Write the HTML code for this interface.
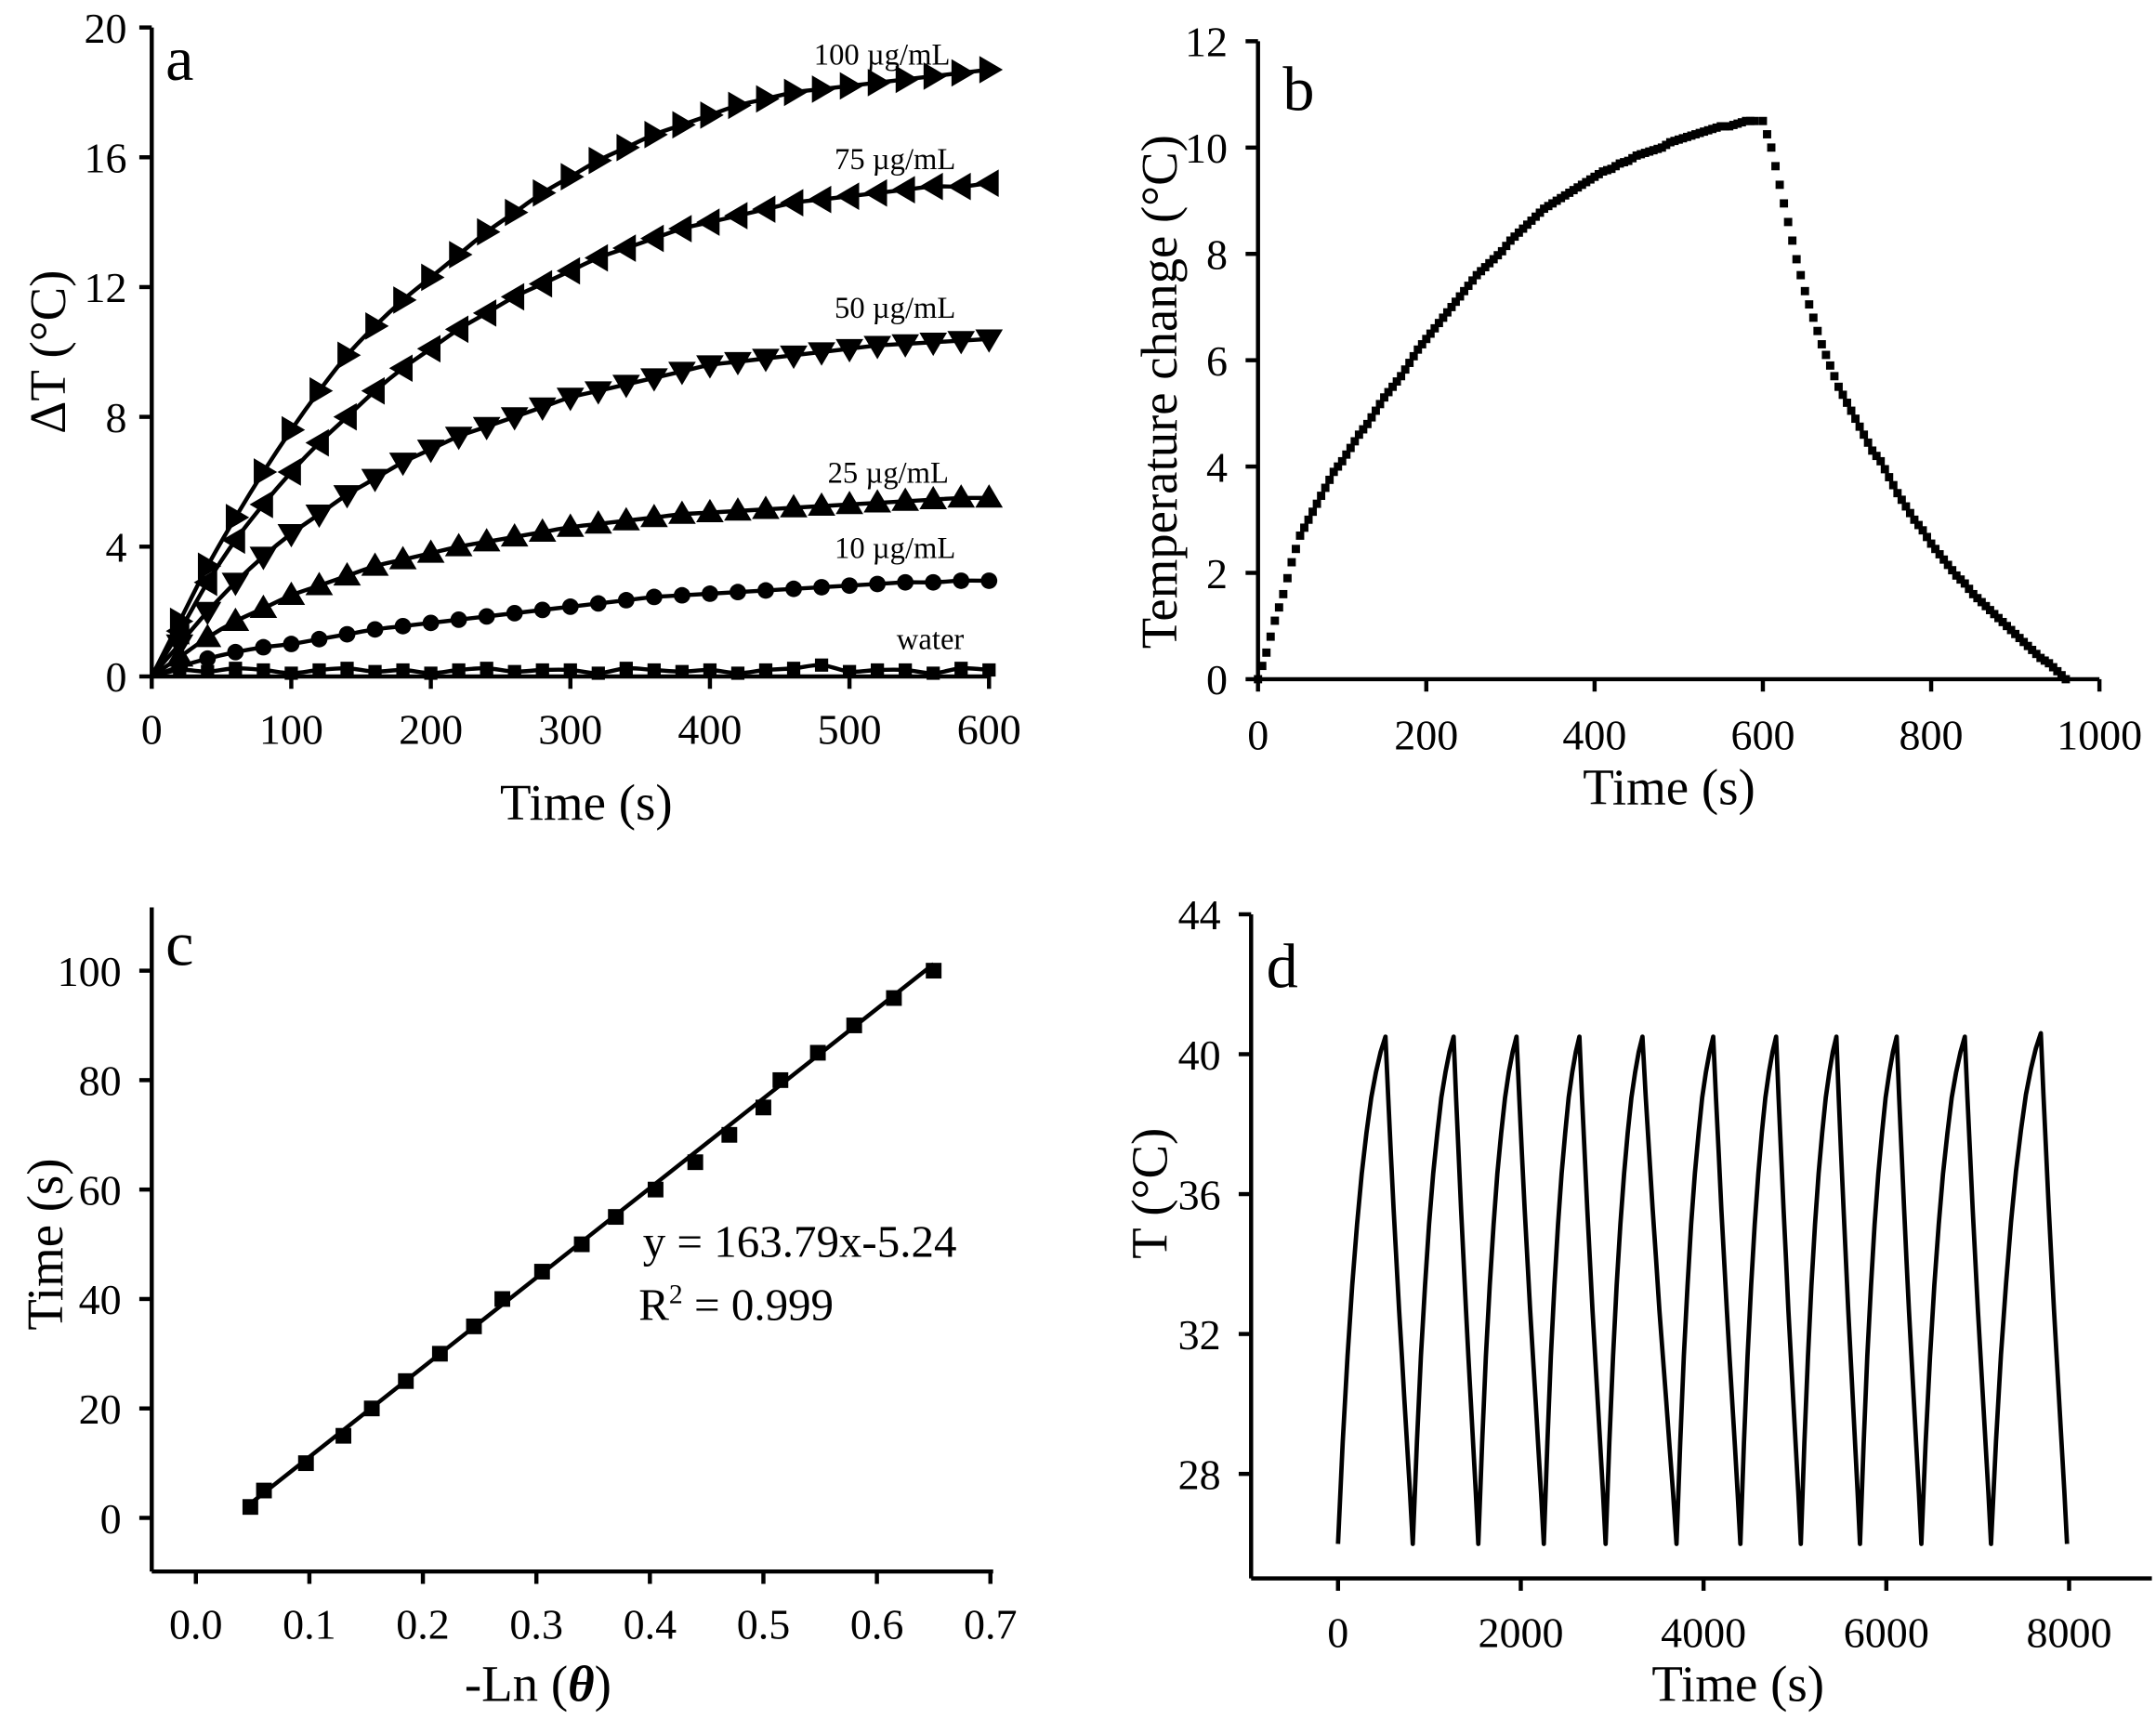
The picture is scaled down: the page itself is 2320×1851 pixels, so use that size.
<!DOCTYPE html>
<html><head><meta charset="utf-8"><style>
html,body{margin:0;padding:0;background:#fff;}
svg{display:block;}
text{font-family:"Liberation Serif",serif;fill:#000;}
</style></head><body>
<svg id="fig" width="2320" height="1851" viewBox="0 0 1563 1251" preserveAspectRatio="none" xmlns="http://www.w3.org/2000/svg"></svg>
<script>
// ---- Panel a data ----
const aTimes=[0,20,40,60,80,100,120,140,160,180,200,220,240,260,280,300,320,340,360,380,400,420,440,460,480,500,520,540,560,580,600];
const a100=[0,1.7,3.4,4.9,6.3,7.6,8.8,9.9,10.8,11.6,12.3,13.0,13.7,14.3,14.9,15.4,15.9,16.3,16.7,17.0,17.3,17.6,17.8,18.0,18.1,18.2,18.3,18.4,18.5,18.6,18.7];
const a75=[0,1.4,2.9,4.2,5.3,6.3,7.2,8.0,8.8,9.5,10.1,10.7,11.2,11.7,12.1,12.5,12.9,13.2,13.5,13.8,14.0,14.2,14.4,14.6,14.7,14.8,14.9,15.0,15.1,15.1,15.2];
const a50=[0,1.0,2.0,2.9,3.7,4.4,5.0,5.6,6.1,6.6,7.0,7.4,7.7,8.0,8.3,8.6,8.8,9.0,9.2,9.4,9.6,9.7,9.8,9.9,10.0,10.1,10.2,10.25,10.3,10.35,10.4];
const a25=[0,0.6,1.2,1.7,2.1,2.5,2.8,3.1,3.4,3.6,3.8,4.0,4.15,4.3,4.45,4.6,4.7,4.8,4.9,5.0,5.05,5.1,5.15,5.2,5.25,5.3,5.35,5.4,5.45,5.5,5.5];
const a10=[0,0.3,0.55,0.75,0.9,1.0,1.15,1.3,1.45,1.55,1.65,1.75,1.85,1.95,2.05,2.15,2.25,2.35,2.45,2.5,2.55,2.6,2.65,2.7,2.75,2.8,2.85,2.9,2.9,2.95,2.95];
const aWater=[0,0.2,0.15,0.25,0.2,0.1,0.2,0.25,0.15,0.2,0.1,0.2,0.25,0.15,0.2,0.2,0.1,0.25,0.2,0.15,0.2,0.1,0.2,0.25,0.35,0.15,0.2,0.2,0.1,0.25,0.2];
const aXTicks=[0,100,200,300,400,500,600];
const aYTicks=[0,4,8,12,16,20];
// ---- Panel b data ----
const bHeatT=[0,10,20,30,40,50,60,70,80,90,100,110,120,130,140,150,160,170,180,190,200,210,220,230,240,250,260,270,280,290,300,310,320,330,340,350,360,370,380,390,400,410,420,430,440,450,460,470,480,490,500,510,520,530,540,550,560,570,580,590];
const bHeat=[0,0.5,1.1,1.6,2.2,2.7,3.0,3.3,3.6,3.9,4.1,4.35,4.6,4.8,5.05,5.3,5.5,5.7,5.95,6.2,6.4,6.6,6.8,7.0,7.2,7.4,7.6,7.75,7.9,8.05,8.25,8.4,8.55,8.7,8.85,8.95,9.05,9.15,9.25,9.35,9.45,9.55,9.6,9.7,9.75,9.85,9.9,9.95,10.0,10.1,10.15,10.2,10.25,10.3,10.35,10.4,10.4,10.45,10.5,10.5];
const bCoolT=[600,610,620,630,640,650,660,670,680,690,700,710,720,730,740,750,760,770,780,790,800,810,820,830,840,850,860,870,880,890,900,910,920,930,940,950,960];
const bCool=[10.5,10.0,9.3,8.6,7.9,7.3,6.8,6.3,5.9,5.5,5.2,4.9,4.6,4.3,4.1,3.8,3.5,3.25,3.0,2.8,2.55,2.35,2.15,1.95,1.8,1.6,1.45,1.3,1.15,1.0,0.85,0.7,0.55,0.4,0.3,0.15,0.0];
const bXTicks=[0,200,400,600,800,1000];
const bYTicks=[0,2,4,6,8,10,12];
// ---- Panel c data ----
const cX=[0.048,0.06,0.097,0.13,0.155,0.185,0.215,0.245,0.27,0.305,0.34,0.37,0.405,0.44,0.47,0.50,0.515,0.548,0.58,0.615,0.65];
const cY=[2,5,10,15,20,25,30,35,40,45,50,55,60,65,70,75,80,85,90,95,100];
const cSlope=[163.79];
const cIntercept=[-5.24];
const cXTicks=[0.0,0.1,0.2,0.3,0.4,0.5,0.6,0.7];
const cYTicks=[0,20,40,60,80,100];
// ---- Panel d data ----
const dStart=[0,818,1535,2252,2929,3704,4403,5064,5712,6383,7146];
const dPeak=[519,1265,1953,2641,3331,4106,4794,5454,6113,6859,7691];
const dEnd=[818,1535,2252,2929,3704,4403,5064,5712,6383,7146,7977];
const dPeakT=[40.5,40.5,40.5,40.5,40.5,40.5,40.5,40.5,40.5,40.5,40.6];
const dMinT=[26,26,26,26,26,26,26,26,26,26,26,26];
const dHeatFrac=[0,0.2,0.37,0.51,0.63,0.73,0.81,0.88,0.93,0.97,1];
const dCoolFrac=[1,0.88,0.77,0.66,0.56,0.46,0.37,0.28,0.19,0.1,0];
const dXTicks=[0,2000,4000,6000,8000];
const dYTicks=[28,32,36,40,44];

const NS="http://www.w3.org/2000/svg";
const svg=document.getElementById('fig');
function mk(tag,attrs,parent,txt){const e=document.createElementNS(NS,tag);for(const k in attrs)e.setAttribute(k,attrs[k]);if(txt!==undefined)e.textContent=txt;(parent||svg).appendChild(e);return e;}
function lin(d0,d1,r0,r1){return v=>r0+(v-d0)*(r1-r0)/(d1-d0);}
function group(name){const g=mk('g',{});return g;}

function axes(g,o){
  const ax=mk('line',{x1:o.axL,y1:o.axB,x2:o.axR,y2:o.axB,stroke:'#000','stroke-width':3},g);
  
  const ay=mk('line',{x1:o.axL,y1:o.axT,x2:o.axL,y2:o.axB,stroke:'#000','stroke-width':3},g);
  
  o.xTicks.forEach(v=>{const x=o.sx(v);
    mk('line',{x1:x,y1:o.axB,x2:x,y2:o.axB+9,stroke:'#000','stroke-width':3},g);
    const t=mk('text',{x:x,y:o.xLabY,'text-anchor':'middle','font-size':o.fs||31},g,o.fmtX(v));
    });
  o.yTicks.forEach(v=>{const y=o.sy(v);
    mk('line',{x1:o.axL-9,y1:y,x2:o.axL,y2:y,stroke:'#000','stroke-width':3},g);
    const t=mk('text',{x:o.yLabX,y:y+11,'text-anchor':'end','font-size':o.fs||31},g,o.fmtY(v));
    });
}
function smoothPath(pts){let d='M'+pts[0][0]+','+pts[0][1];
  for(let i=0;i<pts.length-1;i++){const p0=pts[i-1]||pts[i],p1=pts[i],p2=pts[i+1],p3=pts[i+2]||p2;
    const c1=[p1[0]+(p2[0]-p0[0])/6,p1[1]+(p2[1]-p0[1])/6],c2=[p2[0]-(p3[0]-p1[0])/6,p2[1]-(p3[1]-p1[1])/6];
    d+=' C'+c1[0]+','+c1[1]+' '+c2[0]+','+c2[1]+' '+p2[0]+','+p2[1];}
  return d;}
function marker(g,type,x,y,s){
  let e;
  if(type==='right')e=mk('polygon',{points:`${x+s},${y} ${x-s*0.7},${y-s} ${x-s*0.7},${y+s}`},g);
  else if(type==='left')e=mk('polygon',{points:`${x-s},${y} ${x+s*0.7},${y-s} ${x+s*0.7},${y+s}`},g);
  else if(type==='down')e=mk('polygon',{points:`${x},${y+s} ${x-s},${y-s*0.7} ${x+s},${y-s*0.7}`},g);
  else if(type==='up')e=mk('polygon',{points:`${x},${y-s} ${x-s},${y+s*0.7} ${x+s},${y+s*0.7}`},g);
  else if(type==='circle')e=mk('circle',{cx:x,cy:y,r:s*0.75},g);
  else e=mk('rect',{x:x-s*0.6,y:y-s*0.6,width:s*1.2,height:s*1.2},g);
  e.setAttribute('fill','#000');
  
  
}

// ===== Panel a =====
(function(){
  const g=group('panel-a');
  const sx=lin(0,600,110,717), sy=lin(0,20,492,20);
  axes(g,{axL:110,axR:717,axT:20,axB:492,sx,sy,xTicks:aXTicks,yTicks:aYTicks,fmtX:v=>v,fmtY:v=>v,xLabY:541,yLabX:92});
  const series=[[a100,'right','100 µg/mL',590,47],[a75,'left','75 µg/mL',605,123],[a50,'down','50 µg/mL',605,231],[a25,'up','25 µg/mL',600,351],[a10,'circle','10 µg/mL',605,406],[aWater,'square','water',650,472]];
  series.forEach(([vals,type,label,lx,ly])=>{
    const sg=group('series-'+label.split(' ')[0]);
    const pts=aTimes.map((t,i)=>[sx(t),sy(vals[i])]);
    const p=mk('path',{d:smoothPath(pts),fill:'none',stroke:'#000','stroke-width':3},sg);
    
    pts.forEach((q,i)=>{if(i>0)marker(sg,type,q[0],q[1],type==='circle'||type==='square'?8:10);});
    const t=mk('text',{x:lx,y:ly,'font-size':22},g,label);
    
  });
  const l=mk('text',{x:120,y:58,'font-size':46},g,'a');
  const xt=mk('text',{x:425,y:596,'text-anchor':'middle','font-size':37},g,'Time (s)');
  const yt=mk('text',{x:0,y:0,'text-anchor':'middle','font-size':37,transform:'translate(47,256) rotate(-90)'},g,'ΔT (°C)');
})();

// ===== Panel b =====
(function(){
  const g=group('panel-b');
  const sx=lin(0,1000,912,1522), sy=lin(0,12,494,30);
  axes(g,{axL:912,axR:1522,axT:30,axB:494,sx,sy,xTicks:bXTicks,yTicks:bYTicks,fmtX:v=>v,fmtY:v=>v,xLabY:545,yLabX:890});
  const sg=group('temperature-curve');
  bHeatT.forEach((t,i)=>marker(sg,'square',sx(t),sy(bHeat[i]),5));
  bHeatT.forEach((t,i)=>{if(i<bHeatT.length-1)marker(sg,'square',(sx(t)+sx(bHeatT[i+1]))/2,(sy(bHeat[i])+sy(bHeat[i+1]))/2,5);});
  bCoolT.forEach((t,i)=>marker(sg,'square',sx(t),sy(bCool[i]),5));
  bCoolT.forEach((t,i)=>{if(i<bCoolT.length-1)marker(sg,'square',(sx(t)+sx(bCoolT[i+1]))/2,(sy(bCool[i])+sy(bCool[i+1]))/2,5);});
  const l=mk('text',{x:930,y:80,'font-size':46},g,'b');
  const xt=mk('text',{x:1210,y:585,'text-anchor':'middle','font-size':37},g,'Time (s)');
  const yt=mk('text',{x:0,y:0,'text-anchor':'middle','font-size':37,transform:'translate(853,285) rotate(-90)'},g,'Temperature change (°C)');
})();

// ===== Panel c =====
(function(){
  const g=group('panel-c');
  const sx=lin(0,0.7,142,718), sy=lin(0,100,1104,706);
  axes(g,{axL:110,axR:720,axT:660,axB:1143,sx,sy,xTicks:cXTicks,yTicks:cYTicks,fmtX:v=>v.toFixed(1),fmtY:v=>v,xLabY:1192,yLabX:88});
  const x0=cX[0]-0.003,x1=cX[cX.length-1];
  const fl=mk('line',{x1:sx(x0),y1:sy(cSlope[0]*x0+cIntercept[0]),x2:sx(x1),y2:sy(cSlope[0]*x1+cIntercept[0]),stroke:'#000','stroke-width':3},g);
  
  cX.forEach((x,i)=>marker(g,'square',sx(x),sy(cY[i]),9.5));
  const e1=mk('text',{x:466,y:914,'font-size':33},g,'y = 163.79x-5.24');
  const e2=mk('text',{x:463,y:960,'font-size':33},g,'');
  e2.innerHTML='R<tspan font-size="20" dy="-12">2</tspan><tspan dy="12"> = 0.999</tspan>';
  const l=mk('text',{x:120,y:702,'font-size':46},g,'c');
  const xt=mk('text',{x:390,y:1237,'text-anchor':'middle','font-size':37},g,'');
  xt.innerHTML='-Ln (<tspan font-style="italic" font-weight="bold">θ</tspan>)';
  const yt=mk('text',{x:0,y:0,'text-anchor':'middle','font-size':37,transform:'translate(45,905) rotate(-90)'},g,'Time (s)');
})();

// ===== Panel d =====
(function(){
  const g=group('panel-d');
  const sx=lin(0,8000,970,1500), sy=lin(28,44,1072,665);
  axes(g,{axL:907,axR:1560,axT:665,axB:1148,sx,sy,xTicks:dXTicks,yTicks:dYTicks,fmtX:v=>v,fmtY:v=>v,xLabY:1198,yLabX:885});
  let d='';
  dStart.forEach((s,i)=>{
    const lo=dMinT[i],hi=dPeakT[i],lo2=dMinT[i+1];
    dHeatFrac.forEach((f,k)=>{const t=s+(dPeak[i]-s)*k/(dHeatFrac.length-1);const T=lo+(hi-lo)*f;d+=(d===''?'M':'L')+sx(t).toFixed(1)+','+sy(T).toFixed(1)+' ';});
    dCoolFrac.forEach((f,k)=>{if(k===0)return;const t=dPeak[i]+(dEnd[i]-dPeak[i])*k/(dCoolFrac.length-1);const T=lo2+(hi-lo2)*f;d+='L'+sx(t).toFixed(1)+','+sy(T).toFixed(1)+' ';});
  });
  const p=mk('path',{d:d,fill:'none',stroke:'#000','stroke-width':3.2,'stroke-linejoin':'round'},g);
  
  const l=mk('text',{x:918,y:718,'font-size':46},g,'d');
  const xt=mk('text',{x:1260,y:1237,'text-anchor':'middle','font-size':37},g,'Time (s)');
  const yt=mk('text',{x:0,y:0,'text-anchor':'middle','font-size':37,transform:'translate(846,868) rotate(-90)'},g,'T (°C)');
})();
</script>
</body></html>
